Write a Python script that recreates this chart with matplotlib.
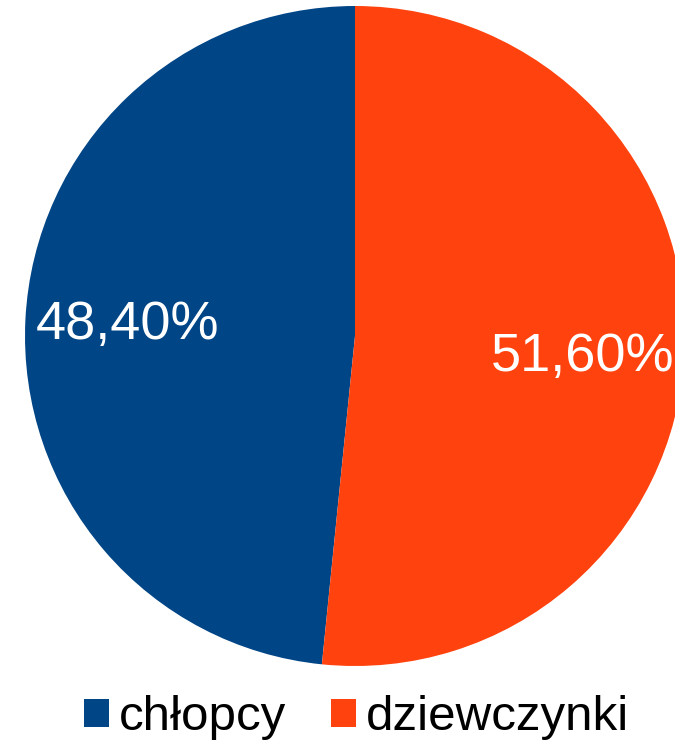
import matplotlib
matplotlib.use("Agg")
import matplotlib.pyplot as plt
from matplotlib.patches import Patch

categories = ["chłopcy", "dziewczynki"]
shares = [48.4, 51.6]
colors = ["#004586", "#FF420E"]

plt.rcParams["font.family"] = ["Liberation Sans", "DejaVu Sans"]

W, H = 675, 744
fig = plt.figure(figsize=(W / 100, H / 100), dpi=100)

# pie: centre (355, 336) px from top-left, radius 330 px
cx, cy, r = 355, 336, 330
ax = fig.add_axes([(cx - r) / W, (H - cy - r) / H, 2 * r / W, 2 * r / H])

def fmt(p):
    return f"{p:.2f}%".replace(".", ",")

wedges, _, autotexts = ax.pie(
    shares,
    colors=colors,
    startangle=90,
    counterclock=True,
    autopct=fmt,
    pctdistance=0.69,
    radius=1.0,
    wedgeprops=dict(linewidth=0),
    textprops=dict(color="white", fontsize=39),
)
# nudge the right-hand percentage a little lower
x, y = autotexts[1].get_position()
autotexts[1].set_position((x, y - 0.03))

ax.set_xlim(-1, 1)
ax.set_ylim(-1, 1)
ax.set_aspect("equal", adjustable="box")
ax.axis("off")

handles = [Patch(facecolor=c, edgecolor="none") for c in colors]
fig.legend(
    handles,
    categories,
    loc="center",
    bbox_to_anchor=(356.5 / W, (H - 718) / H),
    ncol=2,
    frameon=False,
    fontsize=35.5,
    handlelength=0.52,
    handleheight=0.52,
    handletextpad=0.2,
    columnspacing=0.9,
    borderpad=0,
    borderaxespad=0,
)

fig.savefig("out.png", dpi=100)
